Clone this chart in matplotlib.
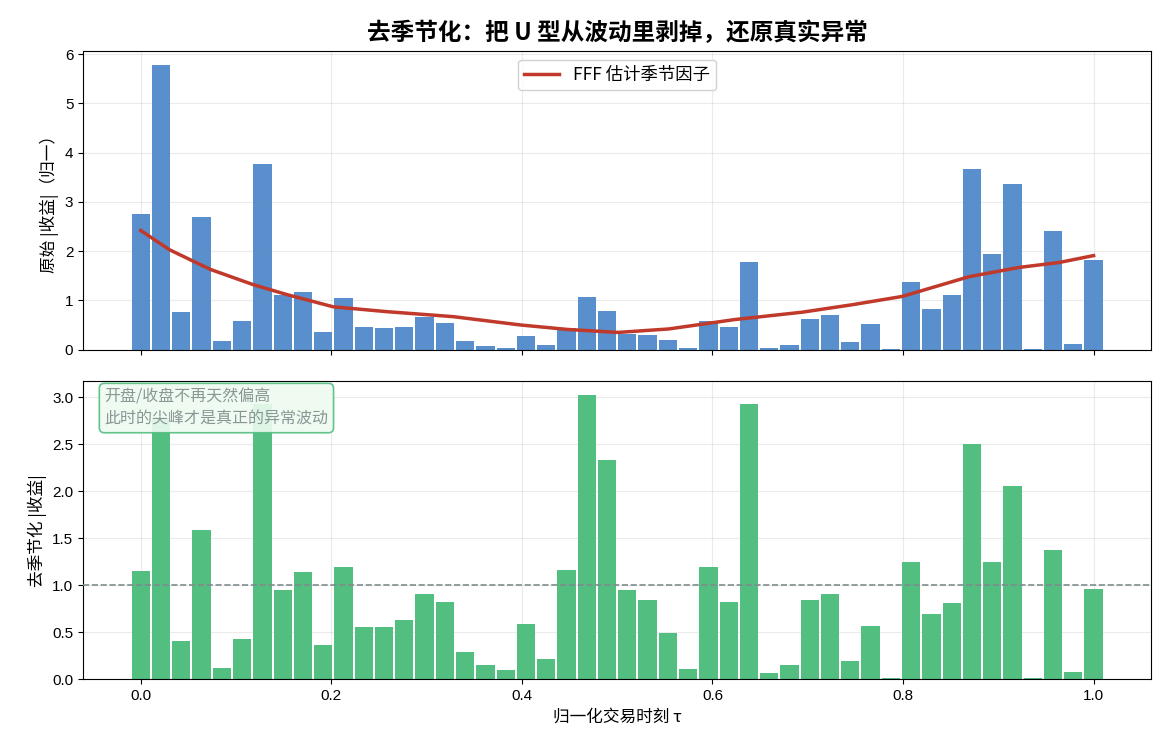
import numpy as np
import matplotlib
matplotlib.use("Agg")
import matplotlib.pyplot as plt

plt.rcParams['font.family'] = ['Noto Sans CJK SC', 'DejaVu Sans']
plt.rcParams['axes.unicode_minus'] = False

n_bins = 48
tau = np.arange(n_bins) / (n_bins - 1)

raw_abs = [2.76, 5.77, 0.77, 2.70, 0.18, 0.59, 3.76, 1.10, 1.18, 0.35,
           1.04, 0.45, 0.43, 0.47, 0.66, 0.55, 0.18, 0.08, 0.04, 0.28,
           0.10, 0.43, 1.06, 0.79, 0.32, 0.30, 0.20, 0.04, 0.59, 0.45,
           1.77, 0.04, 0.10, 0.63, 0.71, 0.16, 0.53, 0.01, 1.38, 0.83,
           1.10, 3.66, 1.95, 3.37, 0.01, 2.40, 0.12, 1.83]

deseason = [1.15, 2.78, 0.41, 1.59, 0.12, 0.43, 2.93, 0.95, 1.14, 0.37,
            1.19, 0.56, 0.56, 0.63, 0.91, 0.82, 0.29, 0.15, 0.095, 0.59,
            0.22, 1.16, 3.02, 2.33, 0.95, 0.84, 0.49, 0.11, 1.19, 0.82,
            2.93, 0.064, 0.15, 0.84, 0.91, 0.19, 0.57, 0.01, 1.25, 0.69,
            0.81, 2.50, 1.25, 2.06, 0.01, 1.37, 0.075, 0.965]

fff_x = [0.0, 0.03, 0.073, 0.118, 0.153, 0.202, 0.259, 0.328, 0.378, 0.399,
         0.448, 0.501, 0.554, 0.623, 0.694, 0.746, 0.799, 0.869, 0.922, 0.964, 1.0]
fff_y = [2.42, 2.03, 1.63, 1.32, 1.12, 0.87, 0.77, 0.67, 0.55, 0.50,
         0.41, 0.35, 0.42, 0.61, 0.76, 0.91, 1.08, 1.48, 1.67, 1.77, 1.91]

title = "去季节化：把 U 型从波动里剥掉，还原真实异常"
legend_label = "FFF 估计季节因子"
ylabel_top = "原始 |收益|（归一）"
ylabel_bot = "去季节化 |收益|"
xlabel = "归一化交易时刻 τ"
note = "开盘/收盘不再天然偏高\n此时的尖峰才是真正的异常波动"

fig, (ax1, ax2) = plt.subplots(2, 1, figsize=(11.7, 7.54), dpi=100, sharex=True)
fig.subplots_adjust(left=0.071, right=0.984, top=0.932, bottom=0.099, hspace=0.105)

width = 0.9 / (n_bins - 1)
ax1.bar(tau, raw_abs, width=width, color='#4a86c8', alpha=0.92, zorder=2)
ax1.plot(fff_x, fff_y, color='#c0392b', lw=2.5, label=legend_label, zorder=3)
ax1.set_ylabel(ylabel_top, fontsize=12)
ax1.legend(loc='upper center', fontsize=12.5, framealpha=0.9, borderpad=0.35)
ax1.grid(True, alpha=0.25, zorder=0)
ax1.set_axisbelow(True)
ax1.set_title(title, fontsize=17, fontweight='bold', pad=8)

ax2.bar(tau, deseason, width=width, color='#52be80', zorder=2)
ax2.axhline(1.0, color='#7f8c8d', ls='--', lw=1.2, zorder=3)
ax2.set_ylabel(ylabel_bot, fontsize=12)
ax2.set_xlabel(xlabel, fontsize=12)
ax2.grid(True, alpha=0.25, zorder=0)
ax2.set_axisbelow(True)
ax2.text(0.02, 0.975, note, transform=ax2.transAxes, ha='left', va='top',
         fontsize=11.5, color='#8a9596', linespacing=1.4, zorder=5,
         bbox=dict(boxstyle='round,pad=0.32', facecolor='#eefbf0', edgecolor='#52be80',
                   alpha=0.9, lw=1.2))

for ax in (ax1, ax2):
    ax.tick_params(labelsize=11)
    for lab in ax.get_xticklabels() + ax.get_yticklabels():
        lab.set_family(['Liberation Sans', 'DejaVu Sans'])

fig.savefig('out.png', dpi=100)
